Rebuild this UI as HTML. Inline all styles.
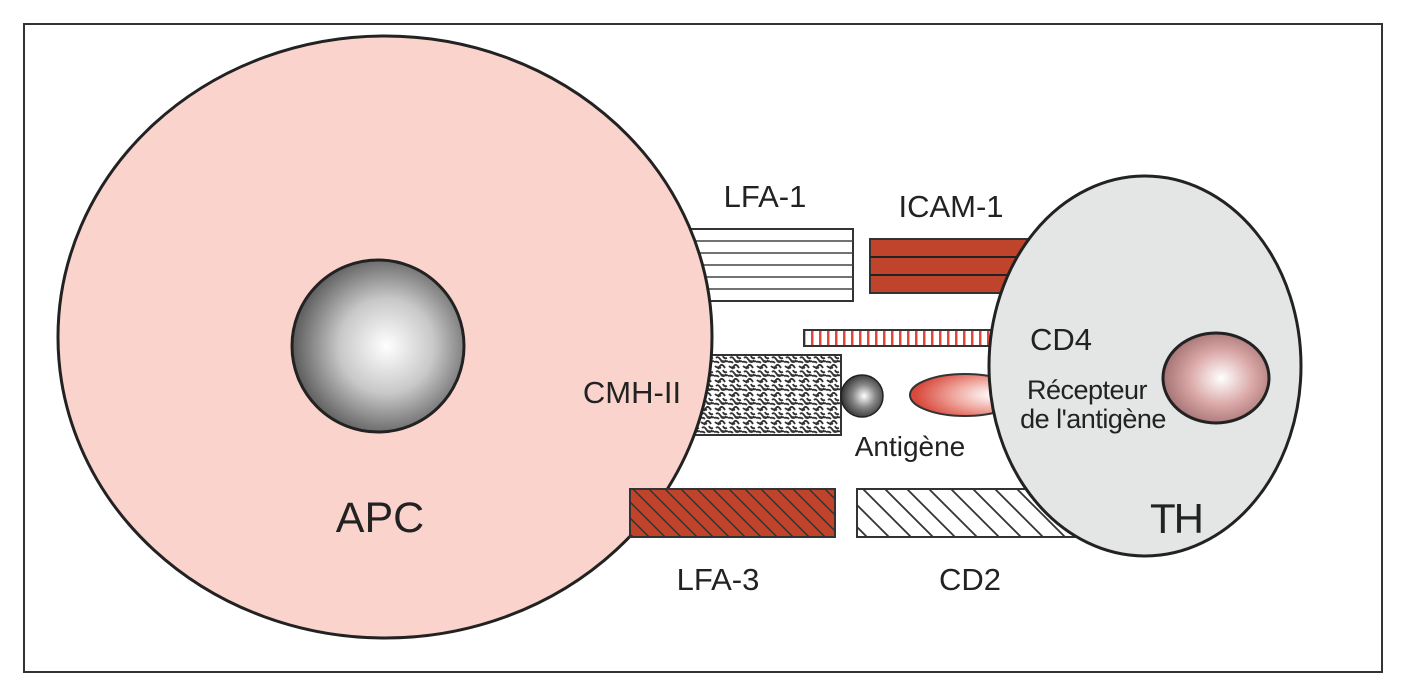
<!DOCTYPE html>
<html><head><meta charset="utf-8"><style>
html,body{margin:0;padding:0;background:#fff;}
svg{display:block;}
text{font-family:"Liberation Sans",Arial,sans-serif;fill:#222;}
</style></head><body>
<svg width="1404" height="700" viewBox="0 0 1404 700" xmlns="http://www.w3.org/2000/svg">
<defs>
<radialGradient id="nuc" cx="0.55" cy="0.5" r="0.55">
<stop offset="0" stop-color="#ffffff"/><stop offset="0.5" stop-color="#c8c8c8"/><stop offset="1" stop-color="#5a5a5a"/></radialGradient>
<radialGradient id="ball" cx="0.55" cy="0.5" r="0.6">
<stop offset="0" stop-color="#ffffff"/><stop offset="0.45" stop-color="#888"/><stop offset="1" stop-color="#222"/></radialGradient>
<radialGradient id="thn" cx="0.55" cy="0.5" r="0.6">
<stop offset="0" stop-color="#ffffff"/><stop offset="0.5" stop-color="#dba8a8"/><stop offset="1" stop-color="#9a6868"/></radialGradient>
<radialGradient id="rec" cx="0.75" cy="0.5" r="0.7">
<stop offset="0" stop-color="#ffffff"/><stop offset="0.5" stop-color="#f0a8a0"/><stop offset="1" stop-color="#d84a3c"/></radialGradient>
<pattern id="cd4" width="8" height="20" patternUnits="userSpaceOnUse"><rect width="8" height="20" fill="#fff"/><rect x="3" width="2.5" height="20" fill="#e0463a"/></pattern>
<pattern id="diagR" width="16" height="16" patternUnits="userSpaceOnUse"><rect width="16" height="16" fill="#c0432c"/><path d="M0 0L16 16M-8 8L8 24M8 -8L24 8" stroke="#333" stroke-width="1.5"/></pattern>
<pattern id="diagW" width="22" height="22" patternUnits="userSpaceOnUse"><rect width="22" height="22" fill="#fff"/><path d="M0 0L22 22M-11 11L11 33M11 -11L33 11" stroke="#333" stroke-width="1.8"/></pattern>
<pattern id="noise" width="14" height="14" patternUnits="userSpaceOnUse"><rect width="14" height="14" fill="#fff"/><path d="M1 2q3 3 5 0t5 2M2 8q2-2 4 1t4 2M9 6q1 3 4 2M0 12q3-1 5 1M7 11q2 2 5 0M4 5q1-2 3-1M11 10q1 2 3 1" stroke="#333" stroke-width="1.9" fill="none"/></pattern>
</defs>
<rect x="24" y="24" width="1358" height="648" fill="#fff" stroke="#333" stroke-width="2"/>
<!-- LFA-1 -->
<rect x="660" y="229" width="193" height="72" fill="#fff" stroke="#333" stroke-width="2"/>
<g stroke="#444" stroke-width="1.5">
<line x1="660" y1="241" x2="853" y2="241"/><line x1="660" y1="253" x2="853" y2="253"/><line x1="660" y1="265" x2="853" y2="265"/><line x1="660" y1="277" x2="853" y2="277"/><line x1="660" y1="289" x2="853" y2="289"/></g>
<!-- ICAM-1 -->
<rect x="870" y="239" width="200" height="54" fill="#c0432c" stroke="#333" stroke-width="2"/>
<line x1="870" y1="257" x2="1070" y2="257" stroke="#222" stroke-width="2"/>
<line x1="870" y1="275" x2="1070" y2="275" stroke="#222" stroke-width="2"/>
<!-- CD4 -->
<rect x="804" y="330" width="220" height="16" fill="url(#cd4)" stroke="#333" stroke-width="2"/>
<!-- CMH-II -->
<rect x="680" y="355" width="161" height="80" fill="url(#noise)" stroke="#333" stroke-width="2"/>
<!-- receptor ellipse -->
<ellipse cx="965" cy="395" rx="55" ry="21" fill="url(#rec)" stroke="#333" stroke-width="2"/>
<!-- CD2 -->
<rect x="857" y="489" width="240" height="48" fill="url(#diagW)" stroke="#333" stroke-width="2"/>
<!-- APC -->
<ellipse cx="385" cy="337" rx="327" ry="301" fill="#fad4cc" stroke="#222" stroke-width="3"/>
<circle cx="378" cy="346" r="86" fill="url(#nuc)" stroke="#222" stroke-width="3"/>
<!-- LFA-3 -->
<rect x="630" y="489" width="205" height="48" fill="url(#diagR)" stroke="#333" stroke-width="2"/>
<!-- antigen -->
<circle cx="862" cy="396" r="21" fill="url(#ball)" stroke="#222" stroke-width="1.5"/>
<!-- TH -->
<ellipse cx="1145" cy="366" rx="156" ry="190" fill="#e4e6e6" stroke="#222" stroke-width="3"/>
<ellipse cx="1216" cy="378" rx="53" ry="45" fill="url(#thn)" stroke="#222" stroke-width="3"/>
<!-- labels -->
<text x="765" y="207" font-size="31" text-anchor="middle">LFA-1</text>
<text x="951" y="217" font-size="31" text-anchor="middle">ICAM-1</text>
<text x="632" y="403" font-size="31" text-anchor="middle">CMH-II</text>
<text x="910" y="456" font-size="28" text-anchor="middle">Antigène</text>
<text x="380" y="532" font-size="43" text-anchor="middle">APC</text>
<text x="718" y="590" font-size="31" text-anchor="middle">LFA-3</text>
<text x="970" y="590" font-size="31" text-anchor="middle">CD2</text>
<text x="1030" y="350" font-size="31">CD4</text>
<text x="1087" y="399" font-size="27" text-anchor="middle" letter-spacing="-0.5">Récepteur</text>
<text x="1093" y="428" font-size="27" text-anchor="middle" letter-spacing="-0.5">de l'antigène</text>
<text x="1150" y="533" font-size="42" letter-spacing="-2">TH</text>
</svg>
</body></html>
